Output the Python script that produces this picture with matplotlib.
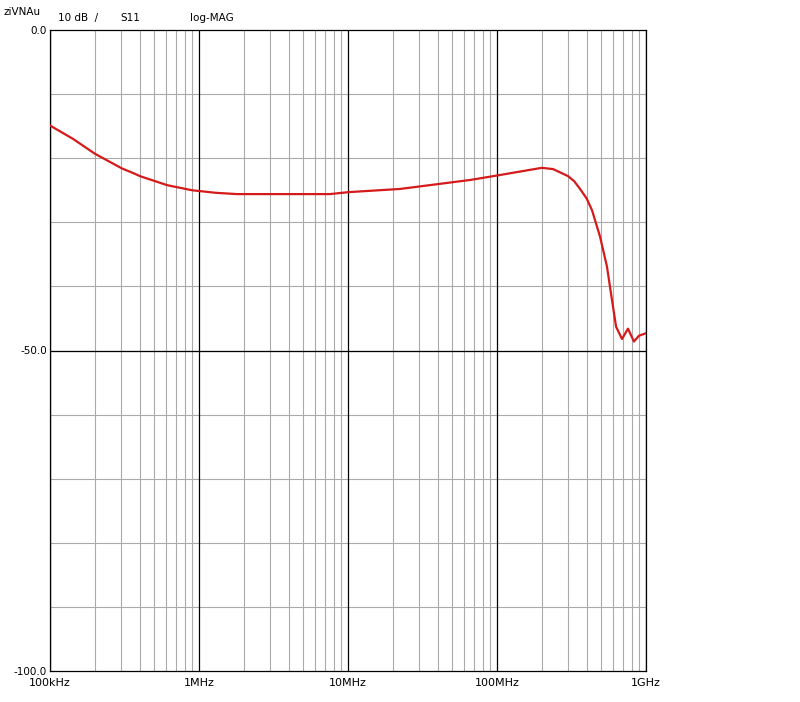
import numpy as np
import matplotlib
matplotlib.use("Agg")
import matplotlib.pyplot as plt

# S11 log-MAG trace
freq = [1.0e5, 1.43e5, 2.0e5, 3.04e5, 3.6e5, 4.02e5, 6.1e5, 8.97e5, 1.3e6,
        1.8e6, 7.57e6, 1.0e7, 2.23e7, 4.14e7, 6.59e7, 1.0e8, 2.0e8, 2.38e8,
        3.0e8, 3.3e8, 3.61e8, 4.0e8, 4.34e8, 4.91e8, 5.47e8, 5.91e8, 6.3e8,
        6.9e8, 7.57e8, 8.3e8, 8.97e8, 1.0e9]
s11 = [-14.9, -17.0, -19.3, -21.6, -22.3, -22.8, -24.2, -25.0, -25.4,
       -25.6, -25.6, -25.3, -24.8, -24.0, -23.4, -22.7, -21.5, -21.7,
       -22.8, -23.6, -24.8, -26.3, -28.1, -32.2, -36.9, -42.1, -46.3,
       -48.2, -46.6, -48.6, -47.7, -47.3]

xtick_pos = [1e5, 1e6, 1e7, 1e8, 1e9]
xtick_lab = ["100kHz", "1MHz", "10MHz", "100MHz", "1GHz"]
ytick_pos = [0, -50, -100]
ytick_lab = ["0.0", "-50.0", "-100.0"]

fig = plt.figure(figsize=(8, 7.02), dpi=100)
ax = fig.add_axes([50 / 800, 31 / 702, 596 / 800, 641 / 702])
ax.set_xscale("log")
ax.set_xlim(1e5, 1e9)
ax.set_ylim(-100, 0)

grey = "#aaaaaa"
# minor vertical grid
for dec in [1e5, 1e6, 1e7, 1e8]:
    for m in range(2, 10):
        ax.axvline(dec * m, color=grey, lw=0.8, zorder=1)
# horizontal grid every 10 dB
for v in range(-90, 0, 10):
    ax.axhline(v, color=grey, lw=0.8, zorder=1)
ax.axhline(-50, color="black", lw=0.9, zorder=2)
for d in xtick_pos:
    ax.axvline(d, color="black", lw=0.9, zorder=2)

ax.plot(freq, s11, color="#d41a1a", lw=1.6, zorder=3)

for s in ax.spines.values():
    s.set_linewidth(0.9)
ax.minorticks_off()
ax.tick_params(axis="x", length=0, labelsize=8, pad=5)
ax.tick_params(axis="y", length=0, labelsize=7.5, pad=2)
ax.set_xticks(xtick_pos)
ax.set_xticklabels(xtick_lab)
ax.set_yticks(ytick_pos)
ax.set_yticklabels(ytick_lab)

fig.text(4 / 800, 1 - 12 / 702, "ziVNAu", fontsize=7.5, va="center")
fig.text(58 / 800, 1 - 18 / 702, "10 dB  /", fontsize=7.5, va="center")
fig.text(120 / 800, 1 - 18 / 702, "S11", fontsize=7.5, va="center")
fig.text(190 / 800, 1 - 18 / 702, "log-MAG", fontsize=7.5, va="center")

fig.savefig("out.png", dpi=100)
